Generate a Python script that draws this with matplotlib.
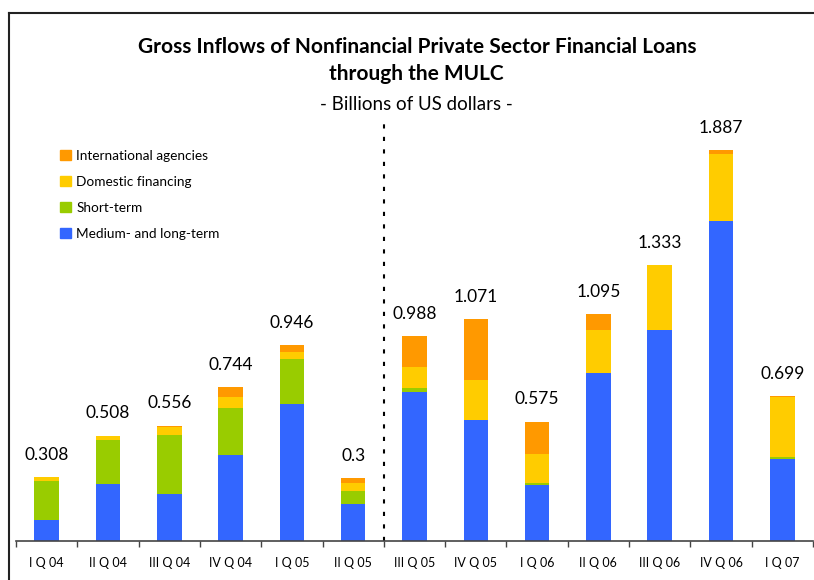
import matplotlib
matplotlib.use('Agg')
import matplotlib.pyplot as plt
import numpy as np
from matplotlib.lines import Line2D

plt.rcParams['font.family'] = ['Lato', 'DejaVu Sans']

# 数据
quarters = ['I Q 04', 'II Q 04', 'III Q 04', 'IV Q 04', 'I Q 05', 'II Q 05',
            'III Q 05', 'IV Q 05', 'I Q 06', 'II Q 06', 'III Q 06', 'IV Q 06', 'I Q 07']
medium_long = [0.100, 0.275, 0.224, 0.414, 0.660, 0.177, 0.720, 0.582, 0.270, 0.810, 1.018, 1.545, 0.394]
short_term = [0.190, 0.213, 0.288, 0.228, 0.218, 0.064, 0.018, 0.000, 0.006, 0.000, 0.000, 0.000, 0.010]
domestic = [0.018, 0.020, 0.039, 0.053, 0.034, 0.035, 0.100, 0.194, 0.144, 0.208, 0.315, 0.323, 0.290]
international = [0.000, 0.000, 0.005, 0.049, 0.034, 0.024, 0.150, 0.295, 0.155, 0.077, 0.000, 0.019, 0.005]
totals = [0.308, 0.508, 0.556, 0.744, 0.946, 0.3, 0.988, 1.071, 0.575, 1.095, 1.333, 1.887, 0.699]

series = [
    ('Medium- and long-term', medium_long, '#3366FF'),
    ('Short-term', short_term, '#99CC00'),
    ('Domestic financing', domestic, '#FFCC00'),
    ('International agencies', international, '#FF9900'),
]

W, H = 814, 580
fig = plt.figure(figsize=(W / 100, H / 100), dpi=100)
ax = fig.add_axes([16 / W, (H - 540.5) / H, (813 - 16) / W, (540.5 - 123) / H])

x = np.arange(len(quarters))
bottom = np.zeros(len(quarters))
handles = []
for name, vals, col in series:
    vals = np.array(vals)
    ax.bar(x, vals, width=0.4, bottom=bottom, color=col, linewidth=0)
    bottom += vals
    handles.append(plt.Rectangle((0, 0), 1, 1, color=col, label=name))

# 总量标注
for i, t in enumerate(totals):
    ax.annotate(str(t), (x[i], bottom[i]), xytext=(0, 16), textcoords='offset points',
                ha='center', va='center', fontsize=12.5)

ax.set_xlim(-0.5, len(quarters) - 0.5)
ax.set_ylim(0, 2.02)

# 虚线分隔
ax.plot([5.5, 5.5], [0, 2.02], color='black', lw=1.5, linestyle=(0, (2, 4)), clip_on=False)

for s in ['top', 'right', 'left']:
    ax.spines[s].set_visible(False)
ax.spines['bottom'].set_color('#444444')
ax.spines['bottom'].set_linewidth(1.2)
ax.set_yticks([])
ax.set_xticks(x)
ax.set_xticklabels(quarters, fontsize=9)
ax.tick_params(axis='x', which='major', length=0, pad=12)
ax.set_xticks(np.arange(-0.5, len(quarters)), minor=True)
ax.tick_params(axis='x', which='minor', length=4, width=1, color='#444444', direction='out')

# 图例
leg = ax.legend(handles=handles[::-1], loc='upper left', bbox_to_anchor=(60 / W, 1 - 150 / H),
                bbox_transform=fig.transFigure, frameon=False, fontsize=9.8,
                handlelength=0.8, handleheight=0.8, handletextpad=0.4, labelspacing=1.02,
                borderaxespad=0, borderpad=0)

# 标题
fig.text(0.512, 1 - 47 / H, 'Gross Inflows of Nonfinancial Private Sector Financial Loans',
         ha='center', va='center', fontsize=15, fontweight='bold')
fig.text(0.512, 1 - 74 / H, 'through the MULC', ha='center', va='center',
         fontsize=15, fontweight='bold')
fig.text(0.512, 1 - 104 / H, '- Billions of US dollars -', ha='center', va='center', fontsize=13.5)

# 外框
fig.add_artist(Line2D([8.5 / W, 1], [1 - 12.5 / H, 1 - 12.5 / H], color='#222222', lw=1.5,
                      transform=fig.transFigure))
fig.add_artist(Line2D([8.5 / W, 8.5 / W], [0, 1 - 12.5 / H], color='#222222', lw=1.5,
                      transform=fig.transFigure))

fig.savefig('out.png', dpi=100)
